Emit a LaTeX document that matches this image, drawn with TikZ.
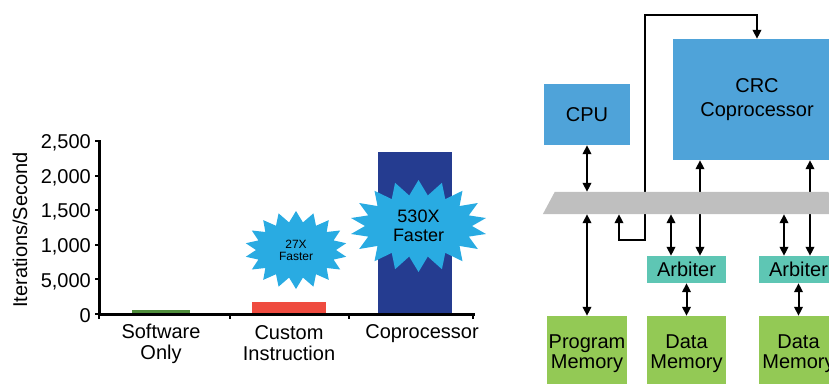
\documentclass[tikz,border=0pt]{standalone}
\usepackage{fontspec}
\setmainfont{Liberation Sans}
\usetikzlibrary{arrows.meta,shapes,calc,backgrounds}
\definecolor{burstblue}{HTML}{29ABE2}
\definecolor{barblue}{HTML}{253C90}
\definecolor{barred}{HTML}{EF4B3F}
\definecolor{bargreen}{HTML}{4F8D3B}
\definecolor{boxblue}{HTML}{4FA3D9}
\definecolor{arbgreen}{HTML}{5EC6B4}
\definecolor{memgreen}{HTML}{93C955}
\definecolor{busgray}{HTML}{BFBFBF}
\tikzset{
  lbl/.style={inner sep=0pt, align=center, font=\fontsize{20}{20.5}\selectfont},
  blk/.style={lbl, draw=none},
  cpublk/.style={blk, fill=boxblue},
  arbblk/.style={blk, fill=arbgreen, minimum width=79pt, minimum height=27pt},
  memblk/.style={blk, fill=memgreen, minimum width=79pt, minimum height=75pt},
  burst/.style={starburst, fill=burstblue, random starburst=0, inner sep=0pt, align=center},
  biarrow/.style={{Triangle[length=9pt,width=8.5pt]}-{Triangle[length=9pt,width=8.5pt]}, line width=2pt}
}

\begin{document}
\begin{tikzpicture}[x=1pt,y=-1pt]
    \useasboundingbox (0,0) rectangle (829,383);
    \clip (0,0) rectangle (829,383);

    % 柱
    \fill[bargreen] (132,310) rectangle (190,314);
    \fill[barred] (252,302) rectangle (326,314);
    \fill[barblue] (378,152) rectangle (452,314);

    % 坐标轴
    \draw[line width=3pt] (99,140) -- (99,314) -- (475,314);
    \foreach \i/\lab in {0/0,1/{5,000},2/{1,000},3/{1,500},4/{2,000},5/{2,500}} {
        \draw[line width=2pt] (95,{314-34.6*\i}) -- (99,{314-34.6*\i});
        \node[lbl, anchor=east] (yl\i) at (91,{316-34.6*\i}) {\lab};
    }
    \foreach \x in {99,230,349,473}
        \draw[line width=2pt] (\x,314) -- (\x,319);

    % 标注
    \node[lbl] (c1) at (161,344) {Software\\Only};
    \node[lbl] (c2) at (289,343) {Custom\\Instruction};
    \node[lbl] (c3) at (422,334) {Coprocessor};
    \node[lbl, rotate=90] (ylab) at (20,230) {Iterations/Second};

    % 爆炸星
    \node[burst, starburst points=18, starburst point height=11pt, minimum width=102pt,
        minimum height=78pt, font=\fontsize{12}{12}\selectfont] (b27) at (296,250) {27X\\Faster};
    \node[burst, starburst points=18, starburst point height=15pt, minimum width=137pt,
        minimum height=92pt, font=\fontsize{18}{18.5}\selectfont] (b530) at (418.5,226) {530X\\Faster};

    % 框图
    \node[cpublk, minimum width=86pt, minimum height=61pt] (cpu) at (587,114.5) {CPU};
    \node[cpublk, minimum width=168pt, minimum height=121pt, font=\fontsize{20}{24}\selectfont]
        (crc) at (757,99.5) {CRC\\Coprocessor};
    \node[inner sep=0pt, minimum width=285pt, minimum height=22pt] (bus) at (691.5,203) {};
    \node[arbblk] (arb1) at (686.5,269.5) {Arbiter};
    \node[arbblk] (arb2) at (798.5,269.5) {Arbiter};
    \node[memblk, minimum width=80pt] (pmem) at (587,353.5) {Program\\Memory};
    \node[memblk] (dmem1) at (686.5,353.5) {Data\\Memory};
    \node[memblk] (dmem2) at (798.5,353.5) {Data\\Memory};

    % 总线
    \fill[busgray] ($(bus.south west)+(-6,0)$) -- ($(bus.north west)+(6,0)$)
        -- ($(bus.north east)+(-6,0)$) -- ($(bus.south east)+(6,0)$) -- cycle;

    \coordinate (lp) at (619,240);
    \coordinate (a1l) at ($(arb1.north)+(-15.5,0)$);
    \coordinate (a1r) at ($(arb1.north)+(13.5,0)$);
    \coordinate (a2l) at ($(arb2.north)+(-14.5,0)$);
    \coordinate (a2r) at ($(arb2.north)+(11.5,0)$);

    % 连线
    \draw[biarrow] (cpu.south) -- (cpu.south |- bus.north);
    \draw[biarrow] (pmem.north |- bus.south) -- (pmem.north);
    \draw[biarrow] (a1l |- bus.south) -- (a1l);
    \draw[biarrow] (a2l |- bus.south) -- (a2l);
    \draw[biarrow] (arb1.south) -- (dmem1.north);
    \draw[biarrow] (arb2.south) -- (dmem2.north);
    \begin{pgfonlayer}{background}
        \draw[biarrow] (a1r |- crc.south) -- (a1r);
        \draw[biarrow] (a2r |- crc.south) -- (a2r);
        \draw[biarrow] (lp |- bus.south) -- (lp) -| (645,15) -| (crc.north);
    \end{pgfonlayer}
\end{tikzpicture}
\end{document}
